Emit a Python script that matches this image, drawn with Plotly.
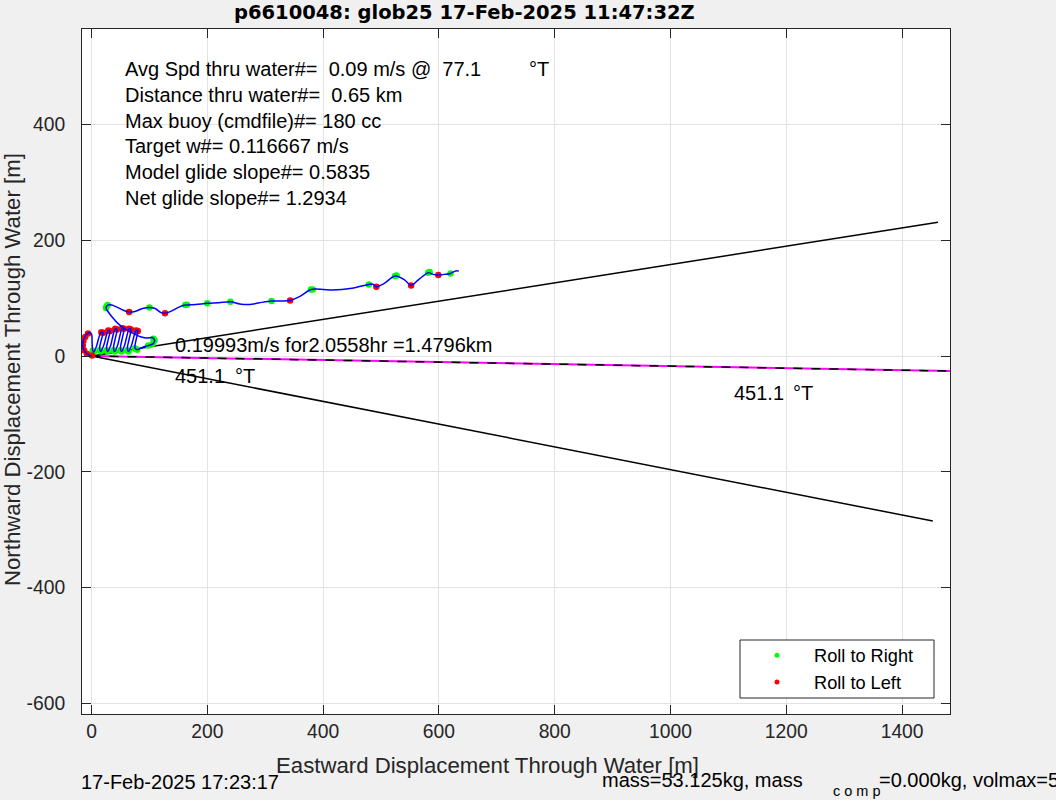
import plotly.graph_objects as go

# ---------------- data (metres) ----------------
track_x = [0, -8, -14, -15, -12, -5, 0, 1, 2, 4,
           9, 13, 17, 20, 17, 14, 16,
           21, 25, 29, 32, 29, 26, 28,
           33, 37, 41, 44, 41, 38, 40,
           45, 49, 53, 56, 53, 50, 52,
           57, 61, 65, 68, 65, 62, 64,
           69, 73, 77, 80, 77, 75, 79,
           88, 98, 106, 109, 105, 96, 86, 76, 66, 56, 46, 36, 29, 25, 28, 35,
           45, 55, 65, 75, 88, 100, 110, 120, 127, 137, 150, 162, 180, 200,
           220, 240, 256, 272, 290, 311, 330, 343, 360, 379, 400, 416, 450,
           479, 486, 492, 505, 524, 540, 552, 565, 581.5, 590, 599, 610, 620,
           629, 634.5]
track_y = [0, 4, 12, 22, 32, 40, 38, 25, 10, 7,
           18, 33, 41, 40, 28, 14, 8,
           18, 33, 44, 43, 29, 14, 8,
           18, 35, 47, 46, 30, 14, 8,
           18, 35, 48, 47, 30, 14, 8,
           18, 34, 47, 46, 29, 14, 8,
           18, 33, 44, 43, 28, 14, 11,
           15, 18, 21, 27, 32, 31, 33, 37, 42, 48, 56, 67, 76, 83, 88, 88,
           84, 79, 76, 77, 82, 84, 82, 75, 74, 77, 84, 88, 89, 91,
           92, 93.6, 90, 89, 92, 95, 95, 96, 103, 115, 115, 114, 117,
           123.6, 124, 119.5, 125, 138, 132, 122, 132, 144, 141, 140, 141, 142.6,
           147, 146.6]

roll_right_x = [2, 4, 14, 16, 26, 28, 38, 40, 50, 52, 62, 64, 75, 79,
                98, 106, 109, 107, 25, 26, 28, 100, 162, 165, 200, 240, 311,
                379, 382, 479, 524, 527, 581.5, 584, 620]
roll_right_y = [9, 7, 10, 8, 10, 8, 10, 8, 10, 8, 10, 8, 13, 11,
                18, 21, 27, 30, 83, 86, 88, 84, 88, 88.5, 91, 93.6, 95,
                115, 115, 123.6, 138, 139, 144, 145, 142.6]

roll_left_x = [1, -8, -13, -15, -14, -11, -6, 17, 20, 29, 32, 41, 44, 53, 56,
               65, 68, 77, 80, 65, 127, 343, 492, 552, 599]
roll_left_y = [1, 4, 10, 18, 26, 33, 39, 41, 40, 44, 43, 47, 46, 48, 47,
               47, 46, 44, 43, 76, 74, 96, 119.5, 122, 140]

upper_x = [0, 1462]
upper_y = [0, 231]
lower_x = [0, 1453]
lower_y = [0, -285]
heading_x = [0, 1483]
heading_y = [0, -26]

x_ticks = [0, 200, 400, 600, 800, 1000, 1200, 1400]
y_ticks = [-600, -400, -200, 0, 200, 400]

legend_names = ["Roll to Right", "Roll to Left"]

info_lines = [
    "Avg Spd thru water#=\u00a0\u00a00.09 m/s @\u00a0\u00a077.1",
    "Distance thru water#=\u00a0\u00a00.65 km",
    "Max buoy (cmdfile)#= 180 cc",
    "Target w#= 0.116667 m/s",
    "Model glide slope#= 0.5835",
    "Net glide slope#= 1.2934",
]

# ---------------- layout geometry ----------------
W, H = 1056, 800
L, R, T, B = 82, 950, 29, 714
XR = [-16.4, 1482.7]
YR = [-618.3, 564.8]


def fx(px):
    return (px - L) / (R - L)


def fy(py):
    return (B - py) / (B - T)


FONT = "Liberation Sans, Arial, Helvetica, sans-serif"
GRAY = "#262626"
TXT = 20

fig = go.Figure()

fig.add_trace(go.Scatter(x=heading_x, y=heading_y, mode="lines",
                         line=dict(color="#ff00ff", width=2), showlegend=False, hoverinfo="skip"))
fig.add_trace(go.Scatter(x=heading_x, y=heading_y, mode="lines",
                         line=dict(color="black", width=1.5, dash="dash"), showlegend=False, hoverinfo="skip"))
fig.add_trace(go.Scatter(x=upper_x, y=upper_y, mode="lines",
                         line=dict(color="black", width=1.5), showlegend=False))
fig.add_trace(go.Scatter(x=lower_x, y=lower_y, mode="lines",
                         line=dict(color="black", width=1.5), showlegend=False))
fig.add_trace(go.Scatter(x=roll_right_x, y=roll_right_y, mode="markers",
                         marker=dict(color="#00ff00", size=6.5), showlegend=False))
fig.add_trace(go.Scatter(x=roll_left_x, y=roll_left_y, mode="markers",
                         marker=dict(color="#ff0000", size=6.5), showlegend=False))
fig.add_trace(go.Scatter(x=track_x, y=track_y, mode="lines",
                         line=dict(color="#0000ff", width=1.5, shape="spline", smoothing=0.8),
                         showlegend=False))
# legend entries
fig.add_trace(go.Scatter(x=[None], y=[None], mode="markers",
                         marker=dict(color="#00ff00", size=5), name=legend_names[0]))
fig.add_trace(go.Scatter(x=[None], y=[None], mode="markers",
                         marker=dict(color="#ff0000", size=5), name=legend_names[1]))

ann = []


def txt(text, px, py, size=TXT, color="black", xanchor="left", bold=False, family=FONT):
    if xanchor == "left":
        px -= 3
    ann.append(dict(text=("<b>%s</b>" % text) if bold else text,
                    x=fx(px), y=fy(py), xref="paper", yref="paper",
                    xanchor=xanchor, yanchor="middle", showarrow=False,
                    font=dict(size=size, color=color, family=family)))


for i, line in enumerate(info_lines):
    txt(line, 126, 69 + i * 25.8)
txt("\u00b0T", 530, 69)
txt("0.19993m/s for2.0558hr =1.4796km", 176, 345)
txt("451.1", 176, 376)
txt("\u00b0T", 236, 376)
txt("451.1", 735, 393)
txt("\u00b0T", 794, 393)

# title
txt("p6610048: glob25 17-Feb-2025 11:47:32Z", 464, 12, size=19.5, xanchor="center", bold=True,
    family="DejaVu Sans, Liberation Sans, sans-serif")
# axis titles
txt("Eastward Displacement Through Water [m]", 487, 765, size=22.2, color=GRAY, xanchor="center")
ann.append(dict(text="Northward Displacement Through Water [m]", x=fx(12), y=fy(370),
                xref="paper", yref="paper", xanchor="center", yanchor="middle",
                showarrow=False, textangle=-90,
                font=dict(size=22.2, color=GRAY, family=FONT)))
# footer
txt("17-Feb-2025 17:23:17", 82, 782)
txt("mass=53.125kg, mass", 603, 780)
txt("c o m p", 834, 791, size=14.5)
txt("=0.000kg, volmax=5", 880, 780)

# legend frame (drawn as a shape so its size matches the reference box)
shapes = [dict(type="rect", xref="paper", yref="paper",
               x0=fx(740), x1=fx(934), y0=fy(698), y1=fy(640),
               fillcolor="white", line=dict(color=GRAY, width=1), layer="above")]

axis_common = dict(showgrid=True, gridcolor="#e3e3e3", gridwidth=1, zeroline=False,
                   showline=True, linecolor=GRAY, linewidth=1, mirror="ticks",
                   ticks="inside", ticklen=9, tickcolor=GRAY, tickwidth=1,
                   tickfont=dict(size=19.3, color=GRAY, family=FONT))

fig.update_layout(
    width=W, height=H, autosize=False,
    margin=dict(l=L, r=W - R, t=T, b=H - B, pad=0),
    paper_bgcolor="#f0f0f0", plot_bgcolor="white",
    xaxis=dict(range=XR, tickvals=x_ticks, ticktext=[str(v) for v in x_ticks],
               ticklabelstandoff=0, **axis_common),
    yaxis=dict(range=YR, tickvals=y_ticks, ticktext=[str(v) for v in y_ticks],
               ticklabelstandoff=12, **axis_common),
    showlegend=True,
    legend=dict(x=fx(740), y=fy(637), xanchor="left", yanchor="top",
                bgcolor="rgba(0,0,0,0)", borderwidth=0,
                itemwidth=64, font=dict(size=18.2, color="black", family=FONT),
                tracegroupgap=0),
    shapes=shapes,
    annotations=ann,
    font=dict(family=FONT),
)

fig.write_html("out.html", config={"displayModeBar": False},
               post_script="document.body.style.margin='0';document.body.style.overflow='hidden';")
